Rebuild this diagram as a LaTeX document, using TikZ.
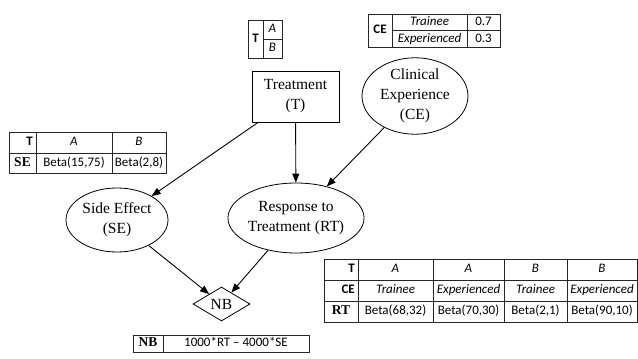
\documentclass[tikz,border=0pt]{standalone}
\usepackage{fontspec}
\setmainfont{Liberation Serif}
\newfontfamily\calib{Carlito}
\usetikzlibrary{shapes.geometric,arrows.meta}
\tikzset{
  gnode/.style={draw=black, line width=0.8pt, align=center, inner sep=0pt,
    font=\fontsize{15.5}{20}\selectfont},
  oval/.style={gnode, ellipse},
  edge/.style={draw=black, line width=0.9pt, -{Triangle[length=9pt,width=7pt]}},
  tbl/.style={draw=black!85, line width=0.9pt},
  cell/.style={inner sep=0pt, text height=9pt, text depth=3pt, font=\calib\fontsize{13}{15}\selectfont},
  icell/.style={cell, font=\calib\itshape\fontsize{13}{15}\selectfont},
  hcell/.style={cell, font=\calib\bfseries\fontsize{13}{15}\selectfont},
  tcell/.style={cell, font=\bfseries\fontsize{13.5}{15}\selectfont},
}
\begin{document}
\begin{tikzpicture}[x=1pt,y=-1pt]
\useasboundingbox (0,0) rectangle (638,359);

% main nodes
\node[gnode, rectangle, minimum width=87pt, minimum height=51pt] (T) at (295.5,96.5) {Treatment\\(T)};
\node[oval, minimum width=106pt, minimum height=72pt] (CE) at (415,96) {Clinical\\Experience\\(CE)};
\node[oval, minimum width=102pt, minimum height=64pt] (SE) at (117,220) {Side Effect\\(SE)};
\node[oval, minimum width=134pt, minimum height=70pt] (RT) at (296,218) {Response to\\Treatment (RT)};
\node[gnode, diamond, minimum width=57pt, minimum height=34pt] (NB) at (221.5,304) {NB};

% connectors
\draw[edge] (T) -- (SE);
\draw[edge] (T) -- (RT);
\draw[edge] (CE) -- (RT);
\draw[edge] (SE) -- (NB);
\draw[edge] (RT) -- (NB);

% T table
\draw[tbl] (248,20) rectangle (282,58);
\draw[tbl] (263,20) -- (263,58);
\draw[tbl] (263,39) -- (282,39);
\node[hcell] (tT) at (255.5,39) {T};
\node[icell] (tA) at (272.5,29.5) {A};
\node[icell] (tB) at (272.5,48.5) {B};

% CE table
\draw[tbl] (368,14) rectangle (500,47);
\draw[tbl] (392,14) -- (392,47);
\draw[tbl] (467,14) -- (467,47);
\draw[tbl] (392,30.5) -- (500,30.5);
\node[hcell] (ceh) at (380,30.5) {CE};
\node[icell] (ce1) at (429.5,22.5) {Trainee};
\node[icell] (ce2) at (429.5,39) {Experienced};
\node[cell] (ce3) at (483.5,22.5) {0.7};
\node[cell] (ce4) at (483.5,39) {0.3};

% SE table
\draw[tbl] (9,132) rectangle (166,173);
\draw[tbl] (9,153) -- (166,153);
\draw[tbl] (36,132) -- (36,173);
\draw[tbl] (112,132) -- (112,173);
\node[hcell, anchor=east] (seT) at (33,142.5) {T};
\node[icell] (seA) at (74,142.5) {A};
\node[icell] (seB) at (139,142.5) {B};
\node[tcell] (seh) at (22.5,163) {SE};
\node[cell] (se1) at (74,163) {Beta(15,75)};
\node[cell] (se2) at (139,163) {Beta(2,8)};

% RT table
\draw[tbl] (324,259) rectangle (637,322);
\draw[tbl] (324,280) -- (637,280);
\draw[tbl] (324,301) -- (637,301);
\foreach \x in {358,433,504,567} \draw[tbl] (\x,259) -- (\x,322);
\node[hcell, anchor=east] (rtT) at (355,269.5) {T};
\node[hcell, anchor=east] (rtC) at (355,290.5) {CE};
\node[tcell] (rth) at (341,311.5) {RT};
\node[icell] (r11) at (395.5,269.5) {A};
\node[icell] (r12) at (468.5,269.5) {A};
\node[icell] (r13) at (535.5,269.5) {B};
\node[icell] (r14) at (602,269.5) {B};
\node[icell] (r21) at (395.5,290.5) {Trainee};
\node[icell] (r22) at (468.5,290.5) {Experienced};
\node[icell] (r23) at (535.5,290.5) {Trainee};
\node[icell] (r24) at (602,290.5) {Experienced};
\node[cell] (r31) at (395.5,311.5) {Beta(68,32)};
\node[cell] (r32) at (468.5,311.5) {Beta(70,30)};
\node[cell] (r33) at (535.5,311.5) {Beta(2,1)};
\node[cell] (r34) at (602,311.5) {Beta(90,10)};

% NB table
\draw[tbl] (133,335) rectangle (309,352);
\draw[tbl] (163,335) -- (163,352);
\node[tcell] (nbh) at (148,343.5) {NB};
\node[cell] (nb1) at (236,343.5) {1000*RT – 4000*SE};
\end{tikzpicture}
\end{document}
